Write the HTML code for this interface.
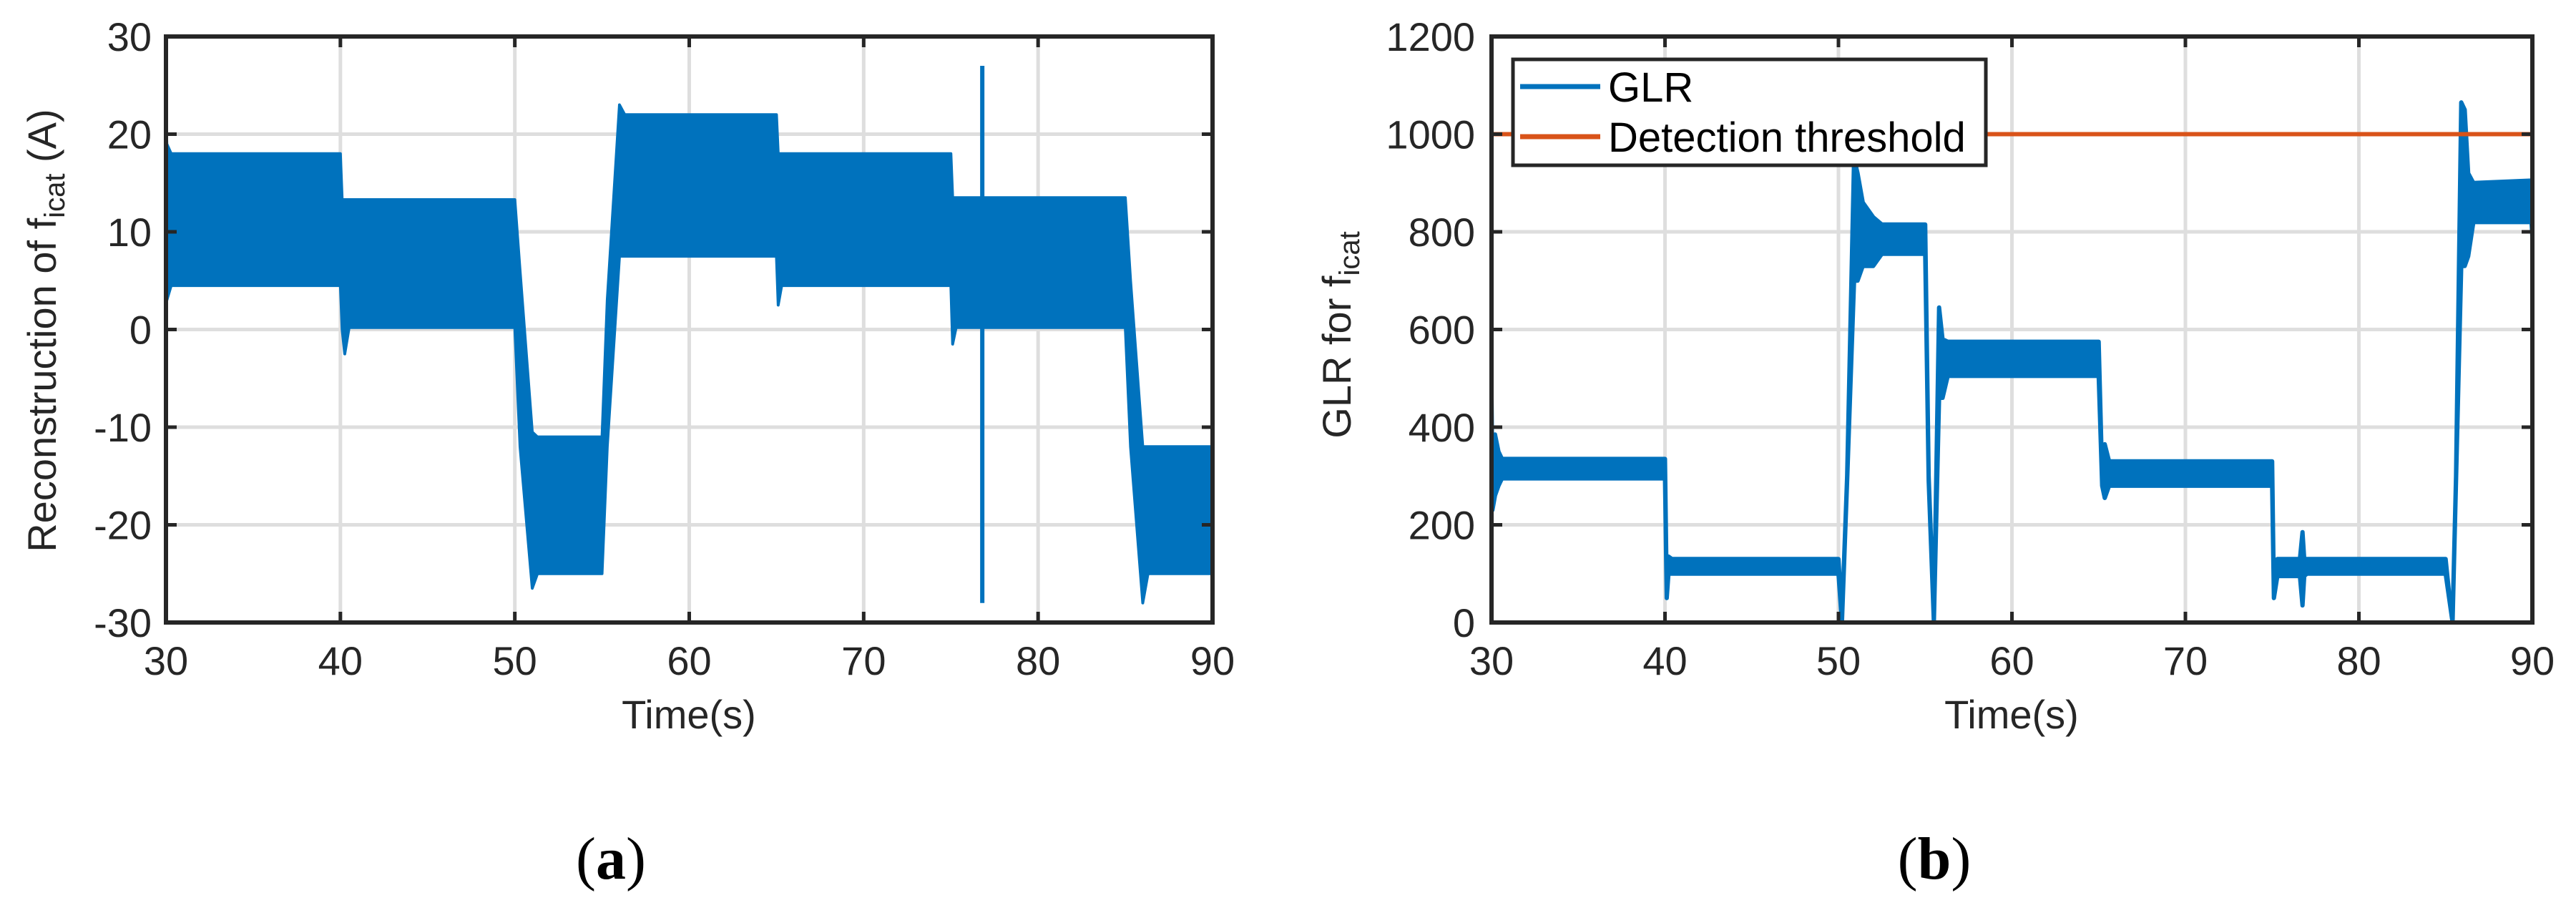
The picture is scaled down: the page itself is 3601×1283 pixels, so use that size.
<!DOCTYPE html>
<html><head><meta charset="utf-8">
<style>
html,body{margin:0;padding:0;background:#fff;}
svg{display:block;}
text{font-family:"Liberation Sans",Arial,sans-serif;}
</style></head>
<body>
<svg id="fig" width="3601" height="1283" viewBox="0 0 3601 1283" xmlns="http://www.w3.org/2000/svg">
<g id="chartA"></g>
<g id="chartB"></g>
<text x="854" y="1228" font-size="84" text-anchor="middle" style="font-family:'Liberation Serif',serif">(<tspan font-weight="bold">a</tspan>)</text>
<text x="2704" y="1228" font-size="84" text-anchor="middle" style="font-family:'Liberation Serif',serif">(<tspan font-weight="bold">b</tspan>)</text>
</svg>
<script>
// ---- Chart A data (envelope of oscillating reconstruction) ----
const tA  = [30, 30.05, 30.3, 40, 40.1, 40.25, 40.5, 50, 50.3, 51, 51.3, 55, 55.3, 56, 56.3, 65, 65.1, 65.3, 75, 75.1, 75.3, 85, 85.3, 86, 86.3, 90];
const upA = [21.5, 19, 18, 18, 13.3, 13.3, 13.3, 13.3, 6, -10.5, -11, -11, 3, 23, 22, 22, 18, 18, 18, 13.5, 13.5, 13.5, 5, -12, -12, -12];
const loA = [6, 3, 4.5, 4.5, 0, -2.5, 0.2, 0.2, -12, -26.5, -25, -25, -12, 7.5, 7.5, 7.5, 2.5, 4.5, 4.5, -1.5, 0.2, 0.2, -12, -28, -25, -25];
const spikeA = [76.8, 27, -28];
const xTicksA = [30,40,50,60,70,80,90];
const yTicksA = [-30,-20,-10,0,10,20,30];

// ---- Chart B data (GLR envelope) ----
const tB  = [30, 30.05, 30.2, 30.4, 30.6, 40, 40.1, 40.2, 40.4, 50, 50.2, 50.5, 50.9, 51.1, 51.4, 52, 52.5, 55, 55.2, 55.5, 55.8, 56, 56.3, 65, 65.2, 65.35, 65.6, 75, 75.1, 75.3, 76.6, 76.75, 76.85, 77, 85, 85.2, 85.4, 85.6, 85.9, 86.1, 86.3, 86.6, 89.95, 90];
const hiB = [460, 300, 385, 350, 335, 335, 60, 135, 130, 130, 10, 300, 950, 920, 860, 830, 815, 815, 300, 10, 645, 580, 575, 575, 300, 365, 330, 330, 60, 130, 130, 185, 130, 130, 130, 60, 10, 300, 1065, 1050, 920, 900, 905, 800];
const loB = [440, 230, 260, 280, 295, 295, 50, 100, 100, 100, 0, 290, 700, 700, 730, 730, 755, 755, 290, 0, 460, 460, 505, 505, 280, 255, 280, 280, 50, 95, 95, 35, 95, 100, 100, 50, 0, 290, 730, 730, 750, 820, 820, 790];
const threshold = [1000];
const xTicksB = [30,40,50,60,70,80,90];
const yTicksB = [0,200,400,600,800,1000,1200];
const legendLabels = ["GLR","Detection threshold"];

const NS="http://www.w3.org/2000/svg";
function mk(parent, tag, attrs){const e=document.createElementNS(NS,tag);for(const k in attrs)e.setAttribute(k,attrs[k]);parent.appendChild(e);return e;}

function axes(g, L, R, T, B, xmin, xmax, ymin, ymax, xt, yt, prefix){
  const sx=v=>L+(v-xmin)/(xmax-xmin)*(R-L);
  const sy=v=>B-(v-ymin)/(ymax-ymin)*(B-T);
  xt.forEach(v=>{ if(v>xmin&&v<xmax){const l=mk(g,'line',{x1:sx(v),x2:sx(v),y1:T,y2:B,stroke:'#dedede','stroke-width':5});
    
    }});
  yt.forEach(v=>{ if(v>ymin&&v<ymax){const l=mk(g,'line',{x1:L,x2:R,y1:sy(v),y2:sy(v),stroke:'#dedede','stroke-width':5});
    
    }});
  return {sx,sy};
}
function frame(g,L,R,T,B,sx,sy,xt,yt,yLabX,prefix){
  xt.forEach(v=>{
    const t1=mk(g,'line',{x1:sx(v),x2:sx(v),y1:B,y2:B-15,stroke:'#262626','stroke-width':5});
    
    
    const t2=mk(g,'line',{x1:sx(v),x2:sx(v),y1:T,y2:T+15,stroke:'#262626','stroke-width':5});
    
    
    const tx=mk(g,'text',{x:sx(v),y:943,'font-size':56,'text-anchor':'middle',fill:'#262626'});
    tx.textContent=v;
    
    
  });
  yt.forEach(v=>{
    const t1=mk(g,'line',{x1:L,x2:L+15,y1:sy(v),y2:sy(v),stroke:'#262626','stroke-width':5});
    
    
    const t2=mk(g,'line',{x1:R,x2:R-15,y1:sy(v),y2:sy(v),stroke:'#262626','stroke-width':5});
    
    
    const tx=mk(g,'text',{x:yLabX,y:sy(v)+20,'font-size':56,'text-anchor':'end',fill:'#262626'});
    tx.textContent=v;
    
    
  });
  const r=mk(g,'rect',{x:L,y:T,width:R-L,height:B-T,fill:'none',stroke:'#262626','stroke-width':6});
  
  
}

// ---- Chart A ----
(function(){
  const g=document.getElementById('chartA');
  const L=232,R=1695,T=51,B=870;
  const {sx,sy}=axes(g,L,R,T,B,30,90,-30,30,xTicksA,yTicksA,'a-');
  let pts=[];
  for(let i=0;i<tA.length;i++) pts.push(sx(tA[i])+','+sy(upA[i]));
  for(let i=tA.length-1;i>=0;i--) pts.push(sx(tA[i])+','+sy(loA[i]));
  const p=mk(g,'polygon',{points:pts.join(' '),fill:'#0072bd',stroke:'#0072bd','stroke-width':4,'stroke-linejoin':'round'});
  
  
  const s=mk(g,'line',{x1:sx(spikeA[0]),x2:sx(spikeA[0]),y1:sy(spikeA[1]),y2:sy(spikeA[2]),stroke:'#0072bd','stroke-width':6});
  
  
  frame(g,L,R,T,B,sx,sy,xTicksA,yTicksA,212,'a-');
  const xl=mk(g,'text',{x:963,y:1018,'font-size':56,'text-anchor':'middle',fill:'#262626'});
  xl.textContent='Time(s)';
  
  
  const yl=mk(g,'text',{x:0,y:0,'font-size':56,'text-anchor':'middle',fill:'#262626',transform:'translate(78,462) rotate(-90)'});
  yl.innerHTML='Reconstruction of f<tspan font-size="40" dy="12">icat</tspan><tspan dy="-12"> (A)</tspan>';
  
  
})();

// ---- Chart B ----
(function(){
  const g=document.getElementById('chartB');
  const L=2085,R=3540,T=51,B=870;
  const {sx,sy}=axes(g,L,R,T,B,30,90,0,1200,xTicksB,yTicksB,'b-');
  let pts=[];
  for(let i=0;i<tB.length;i++) pts.push(sx(tB[i])+','+sy(hiB[i]));
  for(let i=tB.length-1;i>=0;i--) pts.push(sx(tB[i])+','+sy(loB[i]));
  const p=mk(g,'polygon',{points:pts.join(' '),fill:'#0072bd',stroke:'#0072bd','stroke-width':6,'stroke-linejoin':'round'});
  
  
  const th=mk(g,'line',{x1:L,x2:R,y1:sy(threshold[0]),y2:sy(threshold[0]),stroke:'#d95319','stroke-width':6});
  
  
  frame(g,L,R,T,B,sx,sy,xTicksB,yTicksB,2062,'b-');
  const xl=mk(g,'text',{x:2812,y:1018,'font-size':56,'text-anchor':'middle',fill:'#262626'});
  xl.textContent='Time(s)';
  
  
  const yl=mk(g,'text',{x:0,y:0,'font-size':56,'text-anchor':'middle',fill:'#262626',transform:'translate(1888,468) rotate(-90)'});
  yl.innerHTML='GLR for f<tspan font-size="40" dy="12">icat</tspan>';
  
  
  const lg=mk(g,'g',{});
  
  
  mk(lg,'rect',{x:2115,y:83,width:661,height:148,fill:'#fff',stroke:'#262626','stroke-width':5});
  const cols=['#0072bd','#d95319'];
  const ys=[121,191];
  legendLabels.forEach((lab,i)=>{
    const e=mk(lg,'g',{});
    
    
    mk(e,'line',{x1:2125,x2:2237,y1:ys[i],y2:ys[i],stroke:cols[i],'stroke-width':7});
    const t=mk(e,'text',{x:2248,y:ys[i]+21,'font-size':58,fill:'#000'});
    t.textContent=lab;
  });
})();
</script>
</body></html>
